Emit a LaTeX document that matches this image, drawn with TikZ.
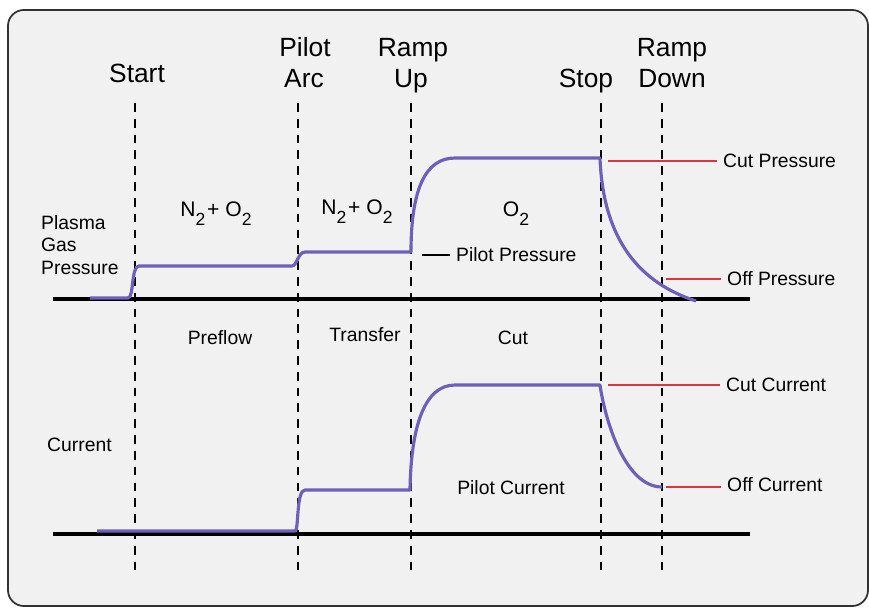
\documentclass[tikz,border=0pt]{standalone}
\usepackage{fontspec}
\setmainfont{Liberation Sans}
\usepackage{tikz}
\definecolor{panelbg}{RGB}{241,241,241}
\definecolor{panelborder}{RGB}{50,50,50}
\definecolor{traceline}{RGB}{108,96,184}
\definecolor{leaderred}{RGB}{222,52,66}
\newcommand{\gsub}[1]{\raisebox{-5pt}{\fontsize{10}{10}\selectfont #1}}

\begin{document}
\begin{tikzpicture}[x=0.02cm, y=-0.02cm]
        \tikzstyle{phase} = [font=\fontsize{15}{18}\selectfont, anchor=base, inner sep=0pt];
        \tikzstyle{label} = [font=\fontsize{11}{13}\selectfont];
        \tikzstyle{gas} = [font=\fontsize{12}{14}\selectfont];
        \tikzstyle{sidelabel} = [font=\fontsize{11}{13}\selectfont, anchor=west];
        \tikzstyle{marker} = [draw=black, line width=1.2pt, dash pattern=on 5pt off 4pt];
        \tikzstyle{axis} = [draw=black, line width=2.3pt];
        \tikzstyle{trace} = [draw=traceline, line width=1.8pt, line join=round];
        \tikzstyle{leader} = [draw=leaderred, line width=0.8pt];

        \useasboundingbox (0,0) rectangle (869,608);
        \filldraw[fill=panelbg, draw=panelborder, line width=1pt, rounded corners=9pt] (8,10) rectangle (868,606);

        % phase markers
        \draw[marker] (135,103) -- (135,573);
        \draw[marker] (298,103) -- (298,573);
        \draw[marker] (411,103) -- (411,573);
        \draw[marker] (601,103) -- (601,573);
        \draw[marker] (662,103) -- (662,573);

        \node(start) [phase] at (137,83) {Start};
        \node(pilot) [phase] at (305,57) {Pilot};
        \node(arc) [phase] at (304,88) {Arc};
        \node(ramp) [phase] at (413,57) {Ramp};
        \node(up) [phase] at (411,88) {Up};
        \node(stop) [phase] at (586,88) {Stop};
        \node(rampb) [phase] at (672,57) {Ramp};
        \node(down) [phase] at (672,88) {Down};

        % axes
        \draw[axis] (53,299) -- (750,299);
        \draw[axis] (53,534) -- (750,534);

        % gas pressure trace
        \draw[trace] (90,298) -- (128,298) .. controls (134,298) and (131,266) .. (139,266)
            -- (292,266) .. controls (297,266) and (298,252) .. (305,252)
            -- (411,252) .. controls (411,190) and (425,158) .. (455,158)
            -- (600,158) .. controls (603,240) and (640,283) .. (696,301);

        % current trace
        \draw[trace] (97,531) -- (295,531) .. controls (299,531) and (296,490) .. (305,490)
            -- (410,490) .. controls (411,425) and (425,385) .. (455,385)
            -- (600,385) .. controls (605,420) and (625,487) .. (662,487);

        \node(plasma) [label, align=left, anchor=west] at (35,245) {Plasma\\Gas\\Pressure};
        \node(current) [label, anchor=west] at (41,445) {Current};

        \node(gasa) [gas] at (216,214) {N\gsub{2}\hspace{1pt}+ O\gsub{2}};
        \node(gasb) [gas] at (357,212) {N\gsub{2}\hspace{1pt}+ O\gsub{2}};
        \node(gasc) [gas] at (516,214) {O\gsub{2}};

        \node(preflow) [label] at (220,338) {Preflow};
        \node(transfer) [label] at (365,335) {Transfer};
        \node(cut) [label] at (513,338) {Cut};

        \node(pilotp) [sidelabel] at (450,255) {Pilot Pressure};
        \node(pilotc) [label] at (511,488) {Pilot Current};

        \node(cutp) [sidelabel] at (717,161) {Cut Pressure};
        \node(offp) [sidelabel] at (721,279) {Off Pressure};
        \node(cutc) [sidelabel] at (720,385) {Cut Current};
        \node(offc) [sidelabel] at (721,485) {Off Current};

        \coordinate(pilotpend) at (422,255);
        \coordinate(cutpend) at (608,161);
        \coordinate(offpend) at (666,279);
        \coordinate(cutcend) at (608,385);
        \coordinate(offcend) at (666,487);

        \draw[draw=black, line width=0.8pt] (pilotpend) -- (pilotp.west);
        \draw[leader] (cutpend) -- (cutp.west);
        \draw[leader] (offpend) -- (offp.west);
        \draw[leader] (cutcend) -- (cutc.west);
        \draw[leader] (offcend) -- (offc.west |- offcend);

    \end{tikzpicture}
\end{document}
